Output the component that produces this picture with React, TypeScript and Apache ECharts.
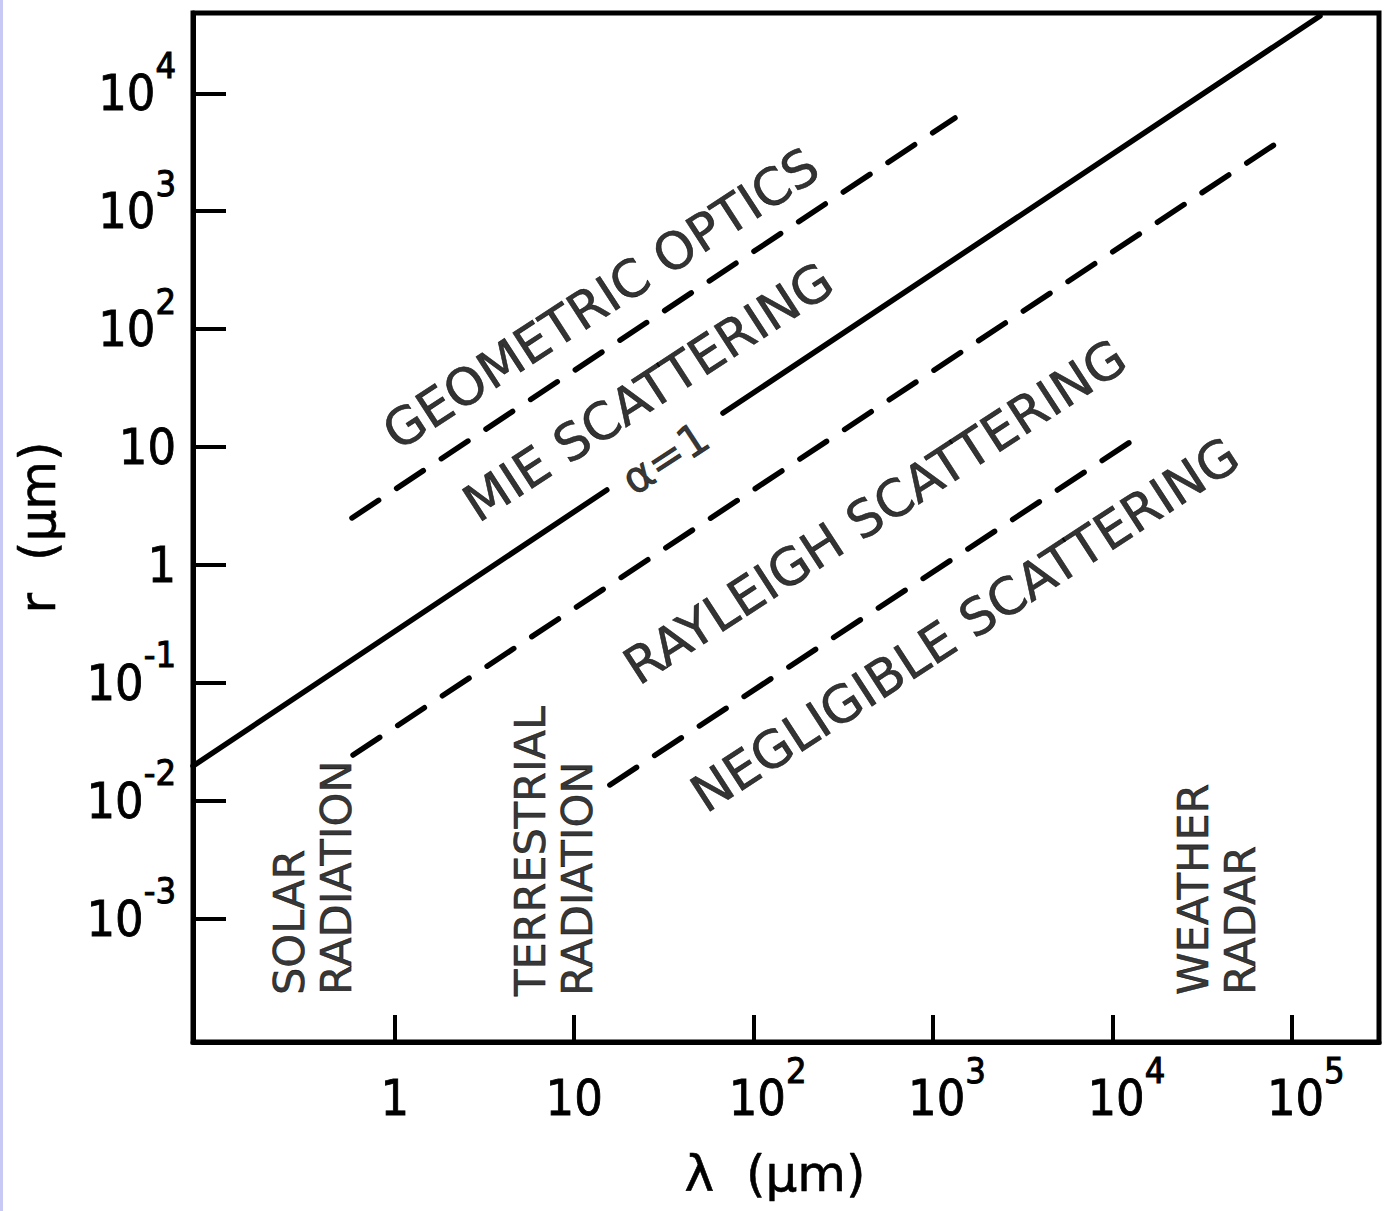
import React, { useEffect, useRef } from 'react';
import * as echarts from 'echarts';

// Boundary lines in the λ–r plane: wavelength λ (µm) and radius r (µm) at each end.
const alphaOneLowerLambda = [0.075, 15.2];
const alphaOneLowerR = [0.0197, 4.32];
const alphaOneUpperLambda = [67.5, 143600];
const alphaOneUpperR = [19.4, 45250];
const geometricMieLambda = [0.577, 1326];
const geometricMieR = [2.5, 6173];
const mieRayleighLambda = [0.585, 82680];
const mieRayleighR = [0.0244, 3788];
const rayleighNegligibleLambda = [15.8, 12535];
const rayleighNegligibleR = [0.0136, 11.0];

// Decades marked on each axis (exponent of 10).
const lambdaDecades = [0, 1, 2, 3, 4, 5];
const radiusDecades = [-3, -2, -1, 0, 1, 2, 3, 4];

// Plotted ranges (µm).
const lambdaRange = [0.075, 306200];
const radiusRange = [8.98e-5, 47980];

// Regime names, written along the boundaries.
const regionNotes = [
  { text: 'GEOMETRIC OPTICS', lambda: 14.1, r: 180 },
  { text: 'MIE SCATTERING', lambda: 25.9, r: 29.2 },
  { text: 'RAYLEIGH SCATTERING', lambda: 475, r: 2.81 },
  { text: 'NEGLIGIBLE SCATTERING', lambda: 1508, r: 0.31 },
];
const alphaNote = { text: 'α=1', lambda: 32.1, r: 8.07 };

// Radiation bands, written upright near the bottom of the frame.
const bandNotes = [
  { text: 'SOLAR\nRADIATION', lambda: 0.348, r: 2.25e-4 },
  { text: 'TERRESTRIAL\nRADIATION', lambda: 7.67, r: 2.21e-4 },
  { text: 'WEATHER\nRADAR', lambda: 37800, r: 2.25e-4 },
];

const FONT = "'DejaVu Sans', sans-serif";
const DIGIT_FONT = "'Liberation Sans Narrow', 'DejaVu Sans Condensed', 'DejaVu Sans', sans-serif";
const INK = '#000';

const lg = Math.log10;
const toPoints = (lambdas: number[], radii: number[]) =>
  lambdas.map((l, i) => [lg(l), lg(radii[i])]);

const powerLabel = (v: number, base: string) => {
  const n = Math.round(v);
  if (n === 0) return '{b|1}';
  if (n === 1) return '{b|10}';
  return `{${base}|10}{s|${n}}`;
};

const ink = { color: INK, textBorderColor: INK, textBorderWidth: 0.8 };

const digitRich = {
  b: { fontFamily: DIGIT_FONT, fontSize: 50, lineHeight: 50, ...ink },
  bp: { fontFamily: DIGIT_FONT, fontSize: 50, lineHeight: 50, padding: [0, 0, 0, 28], ...ink },
  s: { fontFamily: DIGIT_FONT, fontSize: 36, lineHeight: 50, padding: [0, 0, 56, 0], ...ink, textBorderWidth: 1 },
};

function lineSeries(lambdas: number[], radii: number[], dashed: boolean) {
  return {
    type: 'line',
    data: toPoints(lambdas, radii),
    symbol: 'none',
    silent: true,
    lineStyle: {
      color: INK,
      width: 5.5,
      cap: 'round',
      type: dashed ? [32, 21.6] : 'solid',
    },
    z: 3,
  };
}

function noteSeries(notes: { text: string; lambda: number; r: number }[], label: object) {
  return {
    type: 'scatter',
    symbolSize: 1,
    silent: true,
    itemStyle: { color: 'rgba(0,0,0,0)' },
    data: notes.map((n) => ({
      value: [lg(n.lambda), lg(n.r)],
      label: { formatter: n.text },
    })),
    label: { show: true, position: 'inside', fontFamily: FONT, ...ink, textBorderWidth: 0.6, ...label },
    z: 4,
  };
}

export default function App() {
  const ref = useRef<HTMLDivElement>(null);

  useEffect(() => {
    if (!ref.current) return;
    const chart = echarts.init(ref.current, null, { renderer: 'svg' });

    const option = {
      animation: false,
      backgroundColor: '#ffffff',
      graphic: [
        {
          type: 'rect',
          left: 0,
          top: 0,
          shape: { width: 3, height: 1211 },
          style: { fill: '#c9c9f5' },
          silent: true,
        },
      ],
      grid: {
        left: 193,
        right: 5,
        top: 13,
        bottom: 169,
        show: true,
        borderColor: INK,
        borderWidth: 5,
        backgroundColor: 'transparent',
      },
      xAxis: {
        type: 'value',
        min: lg(lambdaRange[0]),
        max: lg(lambdaRange[1]),
        name: 'λ  (μm)',
        nameLocation: 'middle',
        nameGap: 98,
        nameTextStyle: { fontFamily: FONT, fontSize: 50, ...ink, textBorderWidth: 0.6, padding: [0, 22, 0, 0] },
        axisLine: { show: true, onZero: false, lineStyle: { color: INK, width: 5 } },
        axisTick: {
          show: true,
          inside: true,
          length: 27,
          lineStyle: { color: INK, width: 4 },
          customValues: lambdaDecades,
        },
        axisLabel: {
          show: true,
          margin: 31,
          customValues: lambdaDecades,
          formatter: (v: number) => powerLabel(v, 'bp'),
          rich: digitRich,
        },
        splitLine: { show: false },
      },
      yAxis: {
        type: 'value',
        min: lg(radiusRange[0]),
        max: lg(radiusRange[1]),
        name: 'r  (μm)',
        nameLocation: 'middle',
        nameRotate: 90,
        nameGap: 130,
        nameTextStyle: { fontFamily: FONT, fontSize: 50, ...ink, textBorderWidth: 0.6 },
        axisLine: { show: true, onZero: false, lineStyle: { color: INK, width: 5 } },
        axisTick: {
          show: true,
          inside: true,
          length: 33,
          lineStyle: { color: INK, width: 4 },
          customValues: radiusDecades,
        },
        axisLabel: {
          show: true,
          margin: 17,
          customValues: radiusDecades,
          formatter: (v: number) => powerLabel(v, 'b'),
          rich: digitRich,
        },
        splitLine: { show: false },
      },
      series: [
        lineSeries(alphaOneLowerLambda, alphaOneLowerR, false),
        lineSeries(alphaOneUpperLambda, alphaOneUpperR, false),
        lineSeries(geometricMieLambda, geometricMieR, true),
        lineSeries(mieRayleighLambda, mieRayleighR, true),
        lineSeries(rayleighNegligibleLambda, rayleighNegligibleR, true),
        noteSeries(regionNotes, { rotate: 33, fontSize: 51 }),
        noteSeries([alphaNote], { rotate: 33, fontSize: 44 }),
        noteSeries(bandNotes, {
          rotate: 90,
          align: 'left',
          verticalAlign: 'middle',
          lineHeight: 47,
          fontSize: 43,
        }),
      ],
    };

    chart.setOption(option as any);
    return () => chart.dispose();
  }, []);

  return (
    <div
      ref={ref}
      style={{ position: 'absolute', left: 0, top: 0, width: 1384, height: 1211, background: '#fff' }}
    />
  );
}
